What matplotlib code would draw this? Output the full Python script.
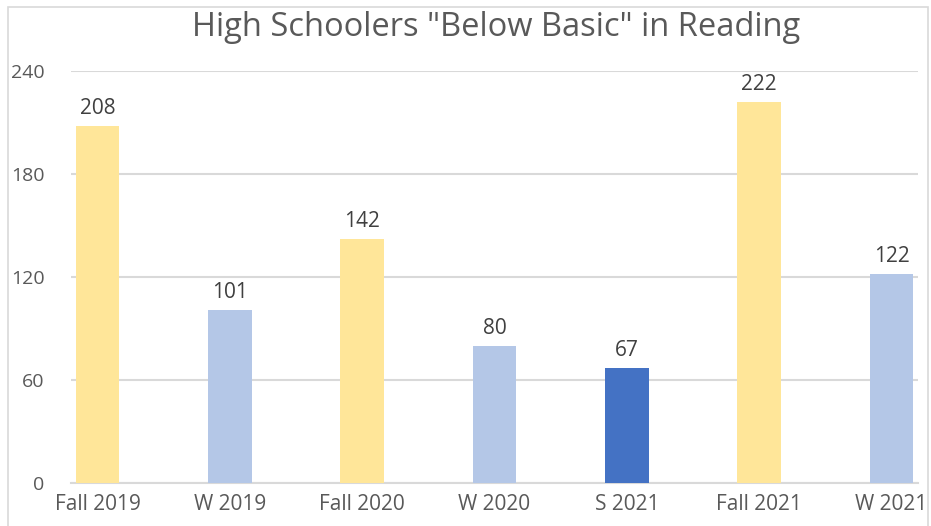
import matplotlib
matplotlib.use("Agg")
import matplotlib.pyplot as plt
from matplotlib.patches import Rectangle

categories = ["Fall 2019", "W 2019", "Fall 2020", "W 2020", "S 2021", "Fall 2021", "W 2021"]
values = [208, 101, 142, 80, 67, 222, 122]
colors = ["#FFE699", "#B4C7E7", "#FFE699", "#B4C7E7", "#4472C4", "#FFE699", "#B4C7E7"]
yticks = [0, 60, 120, 180, 240]
title = 'High Schoolers "Below Basic" in Reading'

plt.rcParams['font.family'] = ['Open Sans', 'DejaVu Sans']

W, H = 931, 526
fig = plt.figure(figsize=(W / 100, H / 100), dpi=100)
ax = fig.add_axes([71 / W, 1 - 483 / H, (918 - 71) / W, (483 - 71) / H])

x = list(range(len(categories)))
ax.bar(x, values, width=0.33, color=colors, zorder=3)
for xi, v in zip(x, values):
    ax.annotate(str(v), (xi, v), xytext=(0, 5), textcoords="offset points",
                ha="center", va="bottom", fontsize=15, color="#404040")

ax.set_xlim(-0.2, len(categories) - 0.8)
ax.set_ylim(0, 240)
ax.set_yticks(yticks)
ax.set_yticklabels([str(t) for t in yticks])
ax.set_xticks(x)
ax.set_xticklabels(categories)
ax.tick_params(axis="y", length=0, pad=19, labelsize=14, labelcolor="#595959")
ax.tick_params(axis="x", length=0, pad=8, labelsize=15, labelcolor="#595959")
ax.grid(axis="y", color="#D9D9D9", linewidth=1.5, zorder=0)
for s in ["top", "right", "left"]:
    ax.spines[s].set_visible(False)
ax.spines["bottom"].set_color("#D9D9D9")
ax.spines["bottom"].set_linewidth(1.5)

fig.text(496 / W, 1 - 28 / H, title, ha="center", va="center", fontsize=23.5, color="#595959")

fig.patches.append(Rectangle((8 / W, -0.05), (928 - 8) / W, 1.05 - 7 / H,
                             transform=fig.transFigure, fill=False,
                             edgecolor="#D9D9D9", linewidth=1.2))

fig.savefig("out.png", dpi=100)
